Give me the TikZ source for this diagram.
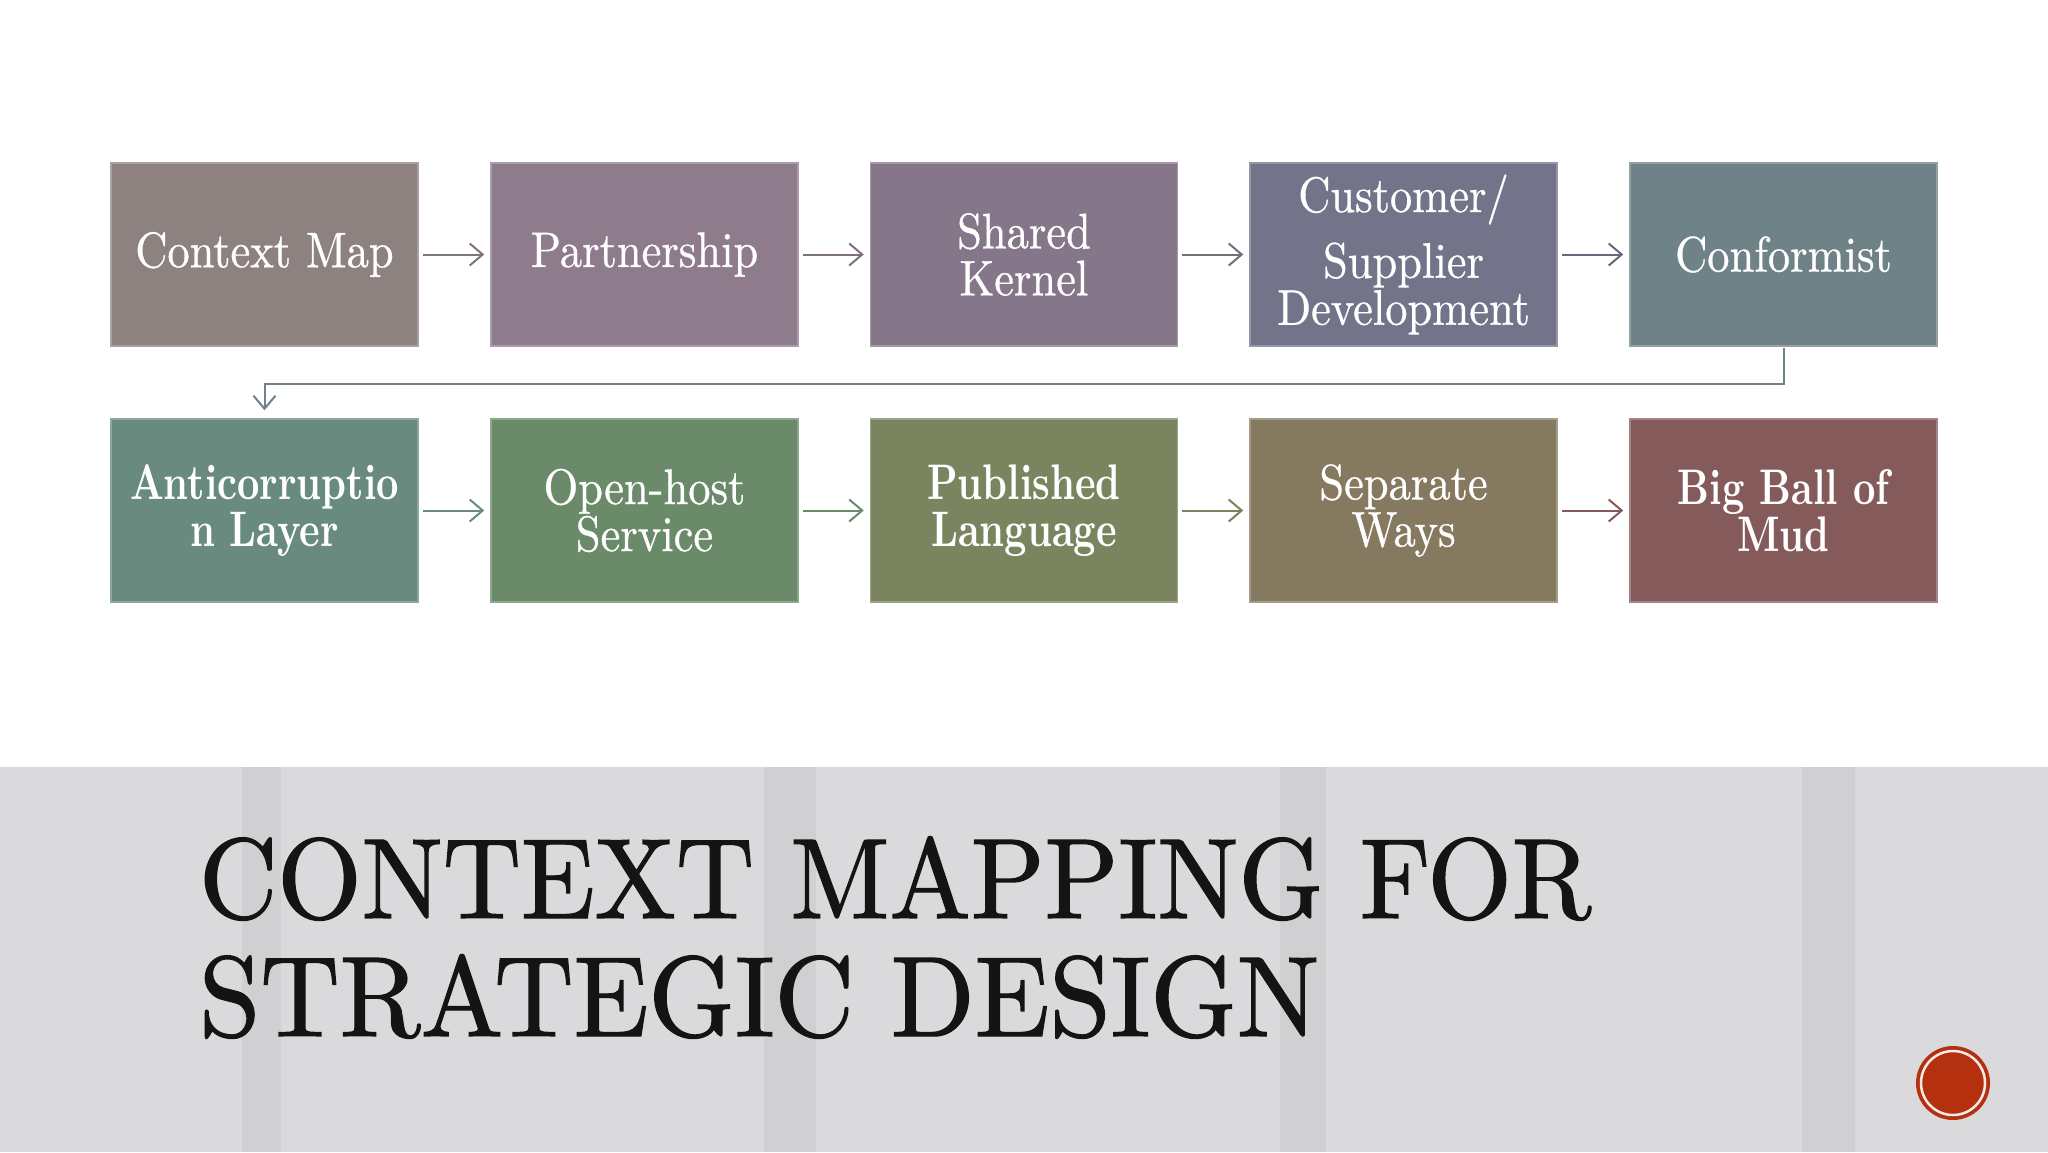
\documentclass[tikz,border=0pt]{standalone}
\usepackage{fontspec}
\usetikzlibrary{arrows.meta}
\newfontfamily\boxfont{lmroman10-regular.otf}[BoldFont=lmroman10-bold.otf, FakeStretch=0.89, FakeBold=0.6, BoldFeatures={FakeStretch=0.78, FakeBold=0}]
\newfontfamily\titlefont{lmroman10-regular.otf}[FakeStretch=0.95, FakeBold=1.2]
\newfontfamily\titlefontb{lmroman10-regular.otf}[FakeStretch=0.965, FakeBold=1.2]
\definecolor{cCM}{HTML}{8E8280}
\definecolor{cPA}{HTML}{8E7B8B}
\definecolor{cSK}{HTML}{857789}
\definecolor{cCS}{HTML}{737389}
\definecolor{cCF}{HTML}{6F8287}
\definecolor{cAC}{HTML}{688A7F}
\definecolor{cOH}{HTML}{6A8A6A}
\definecolor{cPL}{HTML}{7A8560}
\definecolor{cSW}{HTML}{857A60}
\definecolor{cBB}{HTML}{845A5A}
\definecolor{bandlight}{HTML}{DAD9DB}
\definecolor{banddark}{HTML}{D0CFD2}
\definecolor{dotred}{HTML}{B5300F}
\tikzset{
  cbox/.style={minimum width=307pt, minimum height=183pt, inner sep=0pt, align=center,
    text=white, font=\boxfont\fontsize{50}{47}\selectfont, fill=#1, draw=#1!75!white, line width=1.5pt},
  conn/.style={line width=2pt, -{Straight Barb[length=13pt,width=22pt,line width=2pt]},
    shorten <=4pt, shorten >=6pt, draw=#1}
}
\begin{document}
\begin{tikzpicture}[x=1pt,y=-1pt]
\useasboundingbox (0,0) rectangle (2048,1152);
\fill[white] (0,0) rectangle (2048,1152);
% band
\fill[bandlight] (0,767) rectangle (2048,1152);
\foreach \a/\b in {242/281, 764/816, 1280/1326, 1802/1855}
  \fill[banddark] (\a,767) rectangle (\b,1152);
% boxes row 1
\node[cbox=cCM] (cm) at (264.5,254.5) {Context Map};
\node[cbox=cPA] (pa) at (644.5,254.5) {Partnership};
\node[cbox=cSK] (sk) at (1024,254.5) {Shared\\Kernel};
\node[cbox=cCS] (cs) at (1403.5,254.5) {Customer/\\[17pt]Supplier\\Development};
\node[cbox=cCF] (cf) at (1783.5,254.5) {Conformist};
% boxes row 2
\node[cbox=cAC] (ac) at (264.5,510.5) {\bfseries Anticorruptio\\\bfseries n Layer};
\node[cbox=cOH] (oh) at (644.5,510.5) {Open-host\\Service};
\node[cbox=cPL] (pl) at (1024,510.5) {\bfseries Published\\\bfseries Language};
\node[cbox=cSW] (sw) at (1403.5,510.5) {Separate\\Ways};
\node[cbox=cBB] (bb) at (1783.5,510.5) {\bfseries Big Ball of\\\bfseries Mud};
% connectors
\draw[conn=cCM!90!black] (cm) -- (pa);
\draw[conn=cPA!90!black] (pa) -- (sk);
\draw[conn=cSK!90!black] (sk) -- (cs);
\draw[conn=cCS!90!black] (cs) -- (cf);
\draw[conn=cCF, shorten <=1pt, shorten >=8pt] (cf.south) -- ++(0,37) -| (ac.north);
\draw[conn=cAC] (ac) -- (oh);
\draw[conn=cOH] (oh) -- (pl);
\draw[conn=cPL] (pl) -- (sw);
\draw[conn=cBB] (sw) -- (bb);
% title
\node[anchor=base west, inner sep=0pt, text=black!92, font=\titlefont\fontsize{114}{118}\selectfont] (t1) at (199,918) {CONTEXT MAPPING FOR};
\node[anchor=base west, inner sep=0pt, text=black!92, font=\titlefontb\fontsize{114}{118}\selectfont] (t2) at (199,1036) {STRATEGIC DESIGN};
% red dot
\fill[dotred] (1953,1083) circle (37);
\draw[white!90!dotred, line width=2.5pt] (1953,1083) circle (32);
\end{tikzpicture}
\end{document}
